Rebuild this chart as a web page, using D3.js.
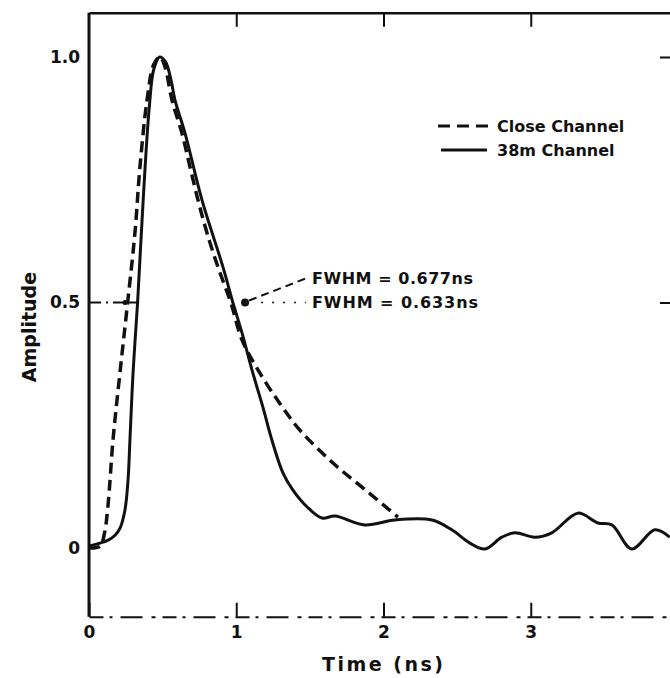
<!DOCTYPE html>
<html>
<head>
<meta charset="utf-8">
<script src="https://cdn.jsdelivr.net/npm/d3@7"></script>
<style>
  body { margin: 0; background: #fff; }
  svg { display: block; font-family: "DejaVu Sans", sans-serif; font-weight: bold; }
  text { fill: #111; }
</style>
</head>
<body>
<div id="main"></div>
<script>
// Time (ns) / amplitude
const closeTime = [0, 0.075, 0.105, 0.13, 0.163, 0.21, 0.262, 0.312, 0.346, 0.394, 0.44, 0.482, 0.516,
    0.564, 0.631, 0.686, 0.74, 0.801, 0.876, 0.964, 1.039, 1.161, 1.297, 1.432, 1.657, 1.874, 2.098];
const closeAmp = [0, 0.004, 0.03, 0.09, 0.22, 0.356, 0.499, 0.642, 0.776, 0.912, 0.985, 1.0, 0.98,
    0.912, 0.845, 0.776, 0.709, 0.642, 0.572, 0.499, 0.424, 0.356, 0.294, 0.24, 0.173, 0.119, 0.063];

const farTime = [0, 0.075, 0.13, 0.177, 0.21, 0.244, 0.265, 0.278, 0.299, 0.33, 0.37, 0.41, 0.44, 0.48,
    0.52, 0.557, 0.584, 0.652, 0.767, 0.91, 0.978, 1.039, 1.113, 1.181, 1.242, 1.317, 1.385, 1.48, 1.582,
    1.67, 1.874, 2.077, 2.329, 2.464, 2.587, 2.688, 2.804, 2.892, 3.028, 3.143, 3.32, 3.456, 3.551, 3.686,
    3.843, 3.944];
const farAmp = [0.004, 0.01, 0.016, 0.026, 0.04, 0.077, 0.138, 0.22, 0.356, 0.5, 0.72, 0.9, 0.975, 1.0,
    0.99, 0.953, 0.912, 0.845, 0.709, 0.572, 0.499, 0.438, 0.356, 0.287, 0.22, 0.153, 0.118, 0.084, 0.061,
    0.065, 0.047, 0.057, 0.057, 0.037, 0.01, -0.002, 0.022, 0.031, 0.022, 0.031, 0.071, 0.051, 0.047,
    -0.002, 0.037, 0.022];

const xTicks = [0, 1, 2, 3, 4];
const yTicks = [0, 0.5, 1];
const yTickLabels = ['0', '0.5', '1.0'];
const seriesNames = ['Close Channel', '38m Channel'];
const fwhmLabels = ['FWHM = 0.677ns', 'FWHM = 0.633ns'];

const W = 670, H = 678;
const FONT = '"DejaVu Sans", sans-serif';

let svg = d3.select('#main').append('svg').attr('width', W).attr('height', H);

let x = d3.scaleLinear().domain([0, 4]).range([89, 678]);
let y = d3.scaleLinear().domain([0, 1]).range([548, 57]);
const yBottom = -0.14, yTop = 1.09;

renderAxes();
renderCurves();
renderNotes();

function tickText(sel){
    sel.selectAll('.tick text')
        .style('font-family', FONT)
        .style('font-weight', 'bold')
        .style('font-size', '17px');
}

function renderAxes(){
    // bottom axis, broken up like the scan
    let bottom = svg.append('g')
        .attr('transform', `translate(0,${y(yBottom)})`)
        .call(d3.axisBottom(x).tickValues(xTicks).tickSize(-14).tickSizeOuter(0).tickPadding(9)
            .tickFormat(d3.format('d')));
    bottom.select('.domain').attr('stroke', '#111').attr('stroke-width', 2)
        .attr('stroke-dasharray', '14,6,3,8,22,9,4,7');
    bottom.selectAll('.tick line').attr('stroke', '#111').attr('stroke-width', 2);
    tickText(bottom);

    // top frame
    let top = svg.append('g')
        .attr('transform', `translate(0,${y(yTop)})`)
        .call(d3.axisTop(x).tickValues([1, 2, 3]).tickSize(-14).tickSizeOuter(0).tickFormat(''));
    top.select('.domain').attr('stroke', '#111').attr('stroke-width', 2.5);
    top.selectAll('.tick line').attr('stroke', '#111').attr('stroke-width', 2);

    // left axis
    let left = svg.append('g')
        .attr('transform', `translate(${x(0)},0)`)
        .call(d3.axisLeft(y).tickValues(yTicks).tickSize(0).tickPadding(9)
            .tickFormat((d, i) => yTickLabels[i]));
    left.select('.domain').attr('d', `M0,${y(yBottom)}V${y(yTop)}`)
        .attr('stroke', '#111').attr('stroke-width', 3);
    tickText(left);

    // right frame ticks (axis itself falls off the page)
    let right = svg.append('g')
        .attr('transform', `translate(${x(4)},0)`)
        .call(d3.axisLeft(y).tickValues([0.5, 1]).tickSize(18).tickFormat(''));
    right.select('.domain').remove();
    right.selectAll('.tick line').attr('stroke', '#111').attr('stroke-width', 2);

    svg.append('text')
        .attr('transform', `translate(29,${y(0.45)}) rotate(-90)`)
        .attr('text-anchor', 'middle')
        .attr('dominant-baseline', 'central')
        .style('font-size', '19px')
        .text('Amplitude');

    svg.append('text')
        .attr('x', 322)
        .attr('y', 671)
        .attr('textLength', 121)
        .attr('lengthAdjust', 'spacing')
        .style('font-size', '19px')
        .text('Time (ns)');
}

function renderCurves(){
    let line = d3.line()
        .x(d => x(d[0]))
        .y(d => y(d[1]))
        .curve(d3.curveCatmullRom.alpha(0.5));

    svg.append('path')
        .datum(d3.zip(farTime, farAmp))
        .attr('d', line)
        .attr('fill', 'none')
        .attr('stroke', '#111')
        .attr('stroke-width', 3)
        .attr('stroke-linejoin', 'round');

    svg.append('path')
        .datum(d3.zip(closeTime, closeAmp))
        .attr('d', line)
        .attr('fill', 'none')
        .attr('stroke', '#111')
        .attr('stroke-width', 3.5)
        .attr('stroke-dasharray', '11,6');
}

function renderNotes(){
    // legend
    let legend = svg.append('g');
    let rows = [[438, 490, 126, '12,7'], [441, 487, 150, null]];
    rows.forEach((r, i) => {
        let l = legend.append('line')
            .attr('x1', r[0]).attr('x2', r[1]).attr('y1', r[2]).attr('y2', r[2])
            .attr('stroke', '#111').attr('stroke-width', 3);
        if (r[3]) l.attr('stroke-dasharray', r[3]);
        legend.append('text')
            .attr('x', 497).attr('y', r[2])
            .attr('dominant-baseline', 'central')
            .style('font-size', '16px')
            .text(seriesNames[i]);
    });

    // FWHM marker on the falling edge
    let px = x(1.06), py = y(0.5);
    svg.append('circle').attr('cx', px).attr('cy', py).attr('r', 4).attr('fill', '#111');
    svg.append('line')
        .attr('x1', px + 4).attr('y1', py - 2).attr('x2', 307).attr('y2', 278)
        .attr('stroke', '#111').attr('stroke-width', 2).attr('stroke-dasharray', '8,5');
    svg.append('line')
        .attr('x1', px + 16).attr('y1', py).attr('x2', 306).attr('y2', py)
        .attr('stroke', '#111').attr('stroke-width', 1.5).attr('stroke-dasharray', '2,9');

    [[278, 161], [py, 166]].forEach((r, i) => {
        svg.append('text')
            .attr('x', 312).attr('y', r[0])
            .attr('dominant-baseline', 'central')
            .attr('textLength', r[1])
            .attr('lengthAdjust', 'spacing')
            .style('font-size', '16px')
            .text(fwhmLabels[i]);
    });

    // marker at half height on the rising edge
    svg.append('line')
        .attr('x1', x(0)).attr('x2', 124).attr('y1', py).attr('y2', py)
        .attr('stroke', '#111').attr('stroke-width', 2).attr('stroke-dasharray', '12,5,2,5');
    svg.append('circle').attr('cx', 125).attr('cy', py).attr('r', 2.5).attr('fill', '#111');
    svg.append('line')
        .attr('x1', 125).attr('x2', 139).attr('y1', py).attr('y2', py)
        .attr('stroke', '#111').attr('stroke-width', 2);
}
</script>
</body>
</html>
